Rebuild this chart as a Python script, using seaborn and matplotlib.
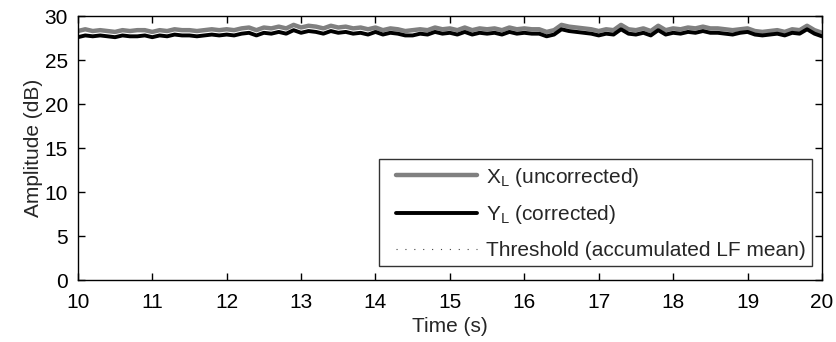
import numpy as np
import pandas as pd
import matplotlib
matplotlib.use("Agg")
import matplotlib.pyplot as plt
import seaborn as sns
from matplotlib.legend_handler import HandlerLine2D

time_s = [round(10 + 0.1 * i, 1) for i in range(101)]

y_corrected = [
    27.6, 27.8, 27.7, 27.8, 27.7, 27.6, 27.8, 27.7, 27.7, 27.8,
    27.6, 27.8, 27.7, 27.9, 27.8, 27.8, 27.7, 27.8, 27.9, 27.8,
    27.9, 27.8, 28.0, 28.1, 27.8, 28.1, 28.0, 28.2, 28.0, 28.4,
    28.1, 28.3, 28.2, 28.0, 28.3, 28.1, 28.2, 28.0, 28.1, 27.9,
    28.2, 27.9, 28.1, 28.0, 27.8, 27.8, 28.0, 27.9, 28.2, 28.0,
    28.1, 27.9, 28.2, 27.9, 28.1, 28.0, 28.1, 27.9, 28.2, 28.0,
    28.1, 28.0, 28.0, 27.7, 27.9, 28.5, 28.3, 28.2, 28.1, 28.0,
    27.8, 28.0, 27.9, 28.5, 28.0, 27.9, 28.1, 27.8, 28.4, 27.9,
    28.1, 28.0, 28.2, 28.1, 28.3, 28.1, 28.1, 28.0, 27.9, 28.1,
    28.2, 27.9, 27.8, 27.9, 28.0, 27.8, 28.1, 28.0, 28.5, 28.0,
    27.7,
]

x_uncorrected = [
    28.3, 28.5, 28.3, 28.4, 28.3, 28.2, 28.4, 28.3, 28.4, 28.4,
    28.2, 28.4, 28.3, 28.5, 28.4, 28.4, 28.3, 28.4, 28.5, 28.4,
    28.5, 28.4, 28.6, 28.7, 28.4, 28.7, 28.6, 28.8, 28.6, 29.0,
    28.7, 28.9, 28.8, 28.6, 28.9, 28.7, 28.8, 28.6, 28.7, 28.5,
    28.7, 28.4, 28.6, 28.5, 28.3, 28.4, 28.5, 28.4, 28.7, 28.5,
    28.6, 28.4, 28.7, 28.4, 28.6, 28.5, 28.6, 28.4, 28.7, 28.5,
    28.6, 28.5, 28.5, 28.2, 28.4, 29.0, 28.8, 28.7, 28.6, 28.5,
    28.3, 28.5, 28.4, 29.0, 28.5, 28.4, 28.6, 28.3, 28.9, 28.4,
    28.6, 28.5, 28.7, 28.6, 28.8, 28.6, 28.6, 28.5, 28.4, 28.5,
    28.6, 28.3, 28.2, 28.3, 28.4, 28.2, 28.5, 28.4, 28.9, 28.4,
    28.1,
]

x_ticks = [10, 11, 12, 13, 14, 15, 16, 17, 18, 19, 20]
y_ticks = [0, 5, 10, 15, 20, 25, 30]

sns.set_theme(style="ticks")
plt.rcParams["font.family"] = ["Liberation Sans", "DejaVu Sans"]
plt.rcParams["mathtext.fontset"] = "custom"
plt.rcParams["mathtext.rm"] = "Liberation Sans"
plt.rcParams["mathtext.it"] = "Liberation Sans"

FS = 15

fig = plt.figure(figsize=(8.37, 3.42), dpi=100)
ax = fig.add_axes([0.093, 0.181, 0.889, 0.772])

df = pd.DataFrame({"t": time_s, "x": x_uncorrected, "y": y_corrected})
sns.lineplot(data=df, x="t", y="x", ax=ax, color="#808080", linewidth=3.2,
             label="X$_\\mathrm{L}$ (uncorrected)")
sns.lineplot(data=df, x="t", y="y", ax=ax, color="black", linewidth=2.8,
             label="Y$_\\mathrm{L}$ (corrected)")
ax.plot([], [], linestyle=(0, (1, 7)), color="#444444", linewidth=0.8,
        label="Threshold (accumulated LF mean)")

ax.set_xlim(10, 20)
ax.set_ylim(0, 30)
ax.set_xticks(x_ticks)
ax.set_yticks(y_ticks)
ax.tick_params(direction="in", top=True, right=True, length=5, width=1,
               labelsize=FS, colors="black")
ax.tick_params(axis="x", pad=9)
ax.tick_params(axis="y", pad=7)
for s in ax.spines.values():
    s.set_linewidth(1.0)
    s.set_color("black")
ax.set_xlabel("Time (s)", fontsize=FS, labelpad=4)
ax.set_ylabel("Amplitude (dB)", fontsize=FS, labelpad=1)

handles, labels = ax.get_legend_handles_labels()
hmap = {h: HandlerLine2D(xpad=0.53) for h in handles}
leg = ax.legend(handles, labels, handler_map=hmap,
                loc="lower right", bbox_to_anchor=(0.987, 0.053), fontsize=FS,
                frameon=True, fancybox=False, edgecolor="black",
                handlelength=4.4, handletextpad=0.45, borderpad=0.3,
                labelspacing=0.7, borderaxespad=0)
leg.get_frame().set_linewidth(1.0)

fig.savefig("out.png", dpi=100)
